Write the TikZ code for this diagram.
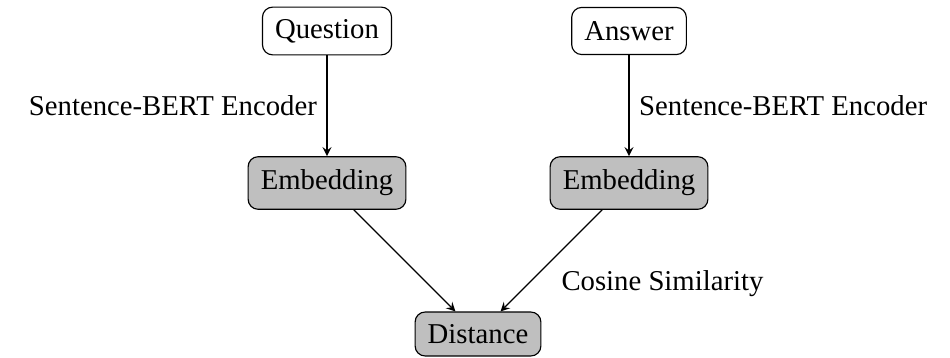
\documentclass[tikz,border=0pt]{standalone}
\usepackage{fontspec}
\setmainfont{Liberation Serif}
\usetikzlibrary{arrows}

\begin{document}
\begin{tikzpicture}[x=0.348pt, y=-0.348pt, >=stealth,
  box/.style={draw, rounded corners=3.5pt, inner xsep=4.4pt, inner ysep=3pt},
  gbox/.style={box, fill=gray!50}]
\useasboundingbox (0,0) rectangle (950,358);
\node[box, minimum height=16.6pt](q) at (327,31){Question};
\node[box, minimum height=16.4pt](a) at (629,31){Answer};
\node[gbox, minimum height=18.3pt](e1) at (327,183){Embedding};
\node[gbox, minimum height=18.3pt](e2) at (629,183){Embedding};
\node[gbox, minimum height=15.3pt](d) at (478,334){Distance};
\draw [->](q) -- (e1) node[left, pos=.5]{Sentence-BERT Encoder};
\draw [->](a) -- (e2) node[right, pos=.5]{Sentence-BERT Encoder};
\draw [->](e1) -- (d);
\draw [->](e2) -- (d) node[below right, pos=.5]{Cosine Similarity};
\end{tikzpicture}
\end{document}
